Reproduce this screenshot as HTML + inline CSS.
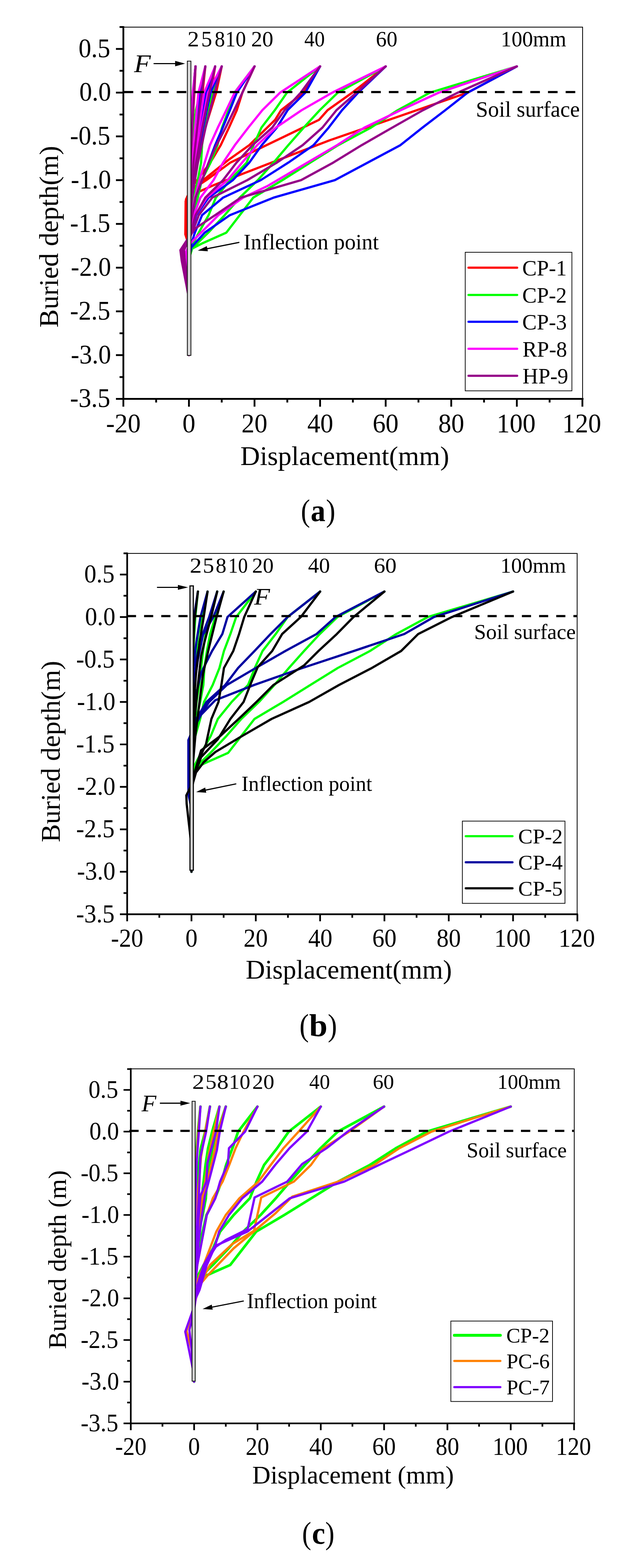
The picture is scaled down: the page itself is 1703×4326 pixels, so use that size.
<!DOCTYPE html><html><head><meta charset="utf-8"><title>Pile displacement profiles</title>
<style>html,body{margin:0;padding:0;background:#fff;}svg{display:block;}</style></head><body>
<svg width="1703" height="4326" viewBox="0 0 1703 4326" font-family="'Liberation Serif', 'Times New Roman', serif">
<rect width="1703" height="4326" fill="#fff"/>
<g>
<polyline points="1426.5,183.18 1290.75,255.6 909.75,387.16 749.56,448.72 668.11,480.1 588.47,511.48 553.17,527.17 521.5,540.45 512.45,554.94 511.55,646.67 521.5,678.05 521.5,714.26" fill="none" stroke="#ff0000" stroke-width="6.2" stroke-linejoin="round" stroke-linecap="round"/>
<polyline points="1064.5,183.18 972.19,255.6 904.32,303.88 880.79,330.43 635.53,448.72 569.47,497 539.6,516.31 521.5,533.21 513.36,550.11 513.36,641.84 521.5,665.98" fill="none" stroke="#ff0000" stroke-width="6.2" stroke-linejoin="round" stroke-linecap="round"/>
<polyline points="883.5,183.18 838.25,255.6 775.81,303.88 759.51,330.43 688.02,400.44 630.1,441.48 566.75,492.17 530.55,521.14 521.5,533.21" fill="none" stroke="#ff0000" stroke-width="6.2" stroke-linejoin="round" stroke-linecap="round"/>
<polyline points="702.5,183.18 669.01,255.6 653.63,303.88 631.91,352.16 609.28,400.44 580.33,448.72 544.12,497 526.02,521.14 521.5,533.21" fill="none" stroke="#ff0000" stroke-width="6.2" stroke-linejoin="round" stroke-linecap="round"/>
<polyline points="612,183.18 596.62,255.6 566.57,352.16 544.03,448.72 525.26,545.28 523.31,569.42 521.5,702.19" fill="none" stroke="#ff0000" stroke-width="6.2" stroke-linejoin="round" stroke-linecap="round"/>
<polyline points="593.9,183.18 581.59,255.6 557.56,352.16 539.53,448.72 524.5,545.28 523.31,569.42 521.5,702.19" fill="none" stroke="#ff0000" stroke-width="6.2" stroke-linejoin="round" stroke-linecap="round"/>
<polyline points="566.75,183.18 559.06,255.6 544.03,352.16 532.77,448.72 523.38,545.28 523.31,569.42 521.5,702.19" fill="none" stroke="#ff0000" stroke-width="6.2" stroke-linejoin="round" stroke-linecap="round"/>
<polyline points="539.6,183.18 536.52,255.6 530.51,352.16 526.01,448.72 522.25,545.28 523.31,569.42 521.5,702.19" fill="none" stroke="#ff0000" stroke-width="6.2" stroke-linejoin="round" stroke-linecap="round"/>
<polyline points="1426.5,183.18 1186.68,255.6 1097.99,303.88 1023.78,352.16 933.28,400.44 856.35,448.72 779.42,497 698.88,545.28 661.77,593.56 624.67,641.84 559.51,670.81 526.93,687.71 521.5,714.26 521.5,979.8" fill="none" stroke="#00ff00" stroke-width="6.2" stroke-linejoin="round" stroke-linecap="round"/>
<polyline points="1064.5,183.18 932.37,255.6 882.6,303.88 838.25,352.16 795.72,400.44 754.99,448.72 711.55,497 661.77,545.28 620.14,593.56 574.89,641.84 530.55,685.29 521.5,714.26" fill="none" stroke="#00ff00" stroke-width="6.2" stroke-linejoin="round" stroke-linecap="round"/>
<polyline points="883.5,183.18 792.1,255.6 758.61,303.88 721.5,352.16 699.78,400.44 680.78,448.72 634.62,497 595.71,545.28 575.8,593.56 548.65,641.84 526.02,685.29 521.5,714.26" fill="none" stroke="#00ff00" stroke-width="6.2" stroke-linejoin="round" stroke-linecap="round"/>
<polyline points="702.5,183.18 647.3,255.6 631,303.88 612.9,352.16 600.24,400.44 581.23,448.72 556.79,497 545.93,545.28 532.36,593.56 525.12,641.84 521.5,690.12" fill="none" stroke="#00ff00" stroke-width="6.2" stroke-linejoin="round" stroke-linecap="round"/>
<polyline points="612,183.18 588.47,255.6 573.99,303.88 564.94,352.16 557.7,400.44 554.99,448.72 545.93,497 535.08,545.28 526.02,617.7 521.5,690.12" fill="none" stroke="#00ff00" stroke-width="6.2" stroke-linejoin="round" stroke-linecap="round"/>
<polyline points="593.9,183.18 573.09,255.6 561.32,303.88 554.08,352.16 548.65,400.44 543.22,448.72 535.98,497 528.74,569.42 521.5,665.98" fill="none" stroke="#00ff00" stroke-width="6.2" stroke-linejoin="round" stroke-linecap="round"/>
<polyline points="566.75,183.18 553.17,255.6 540.5,303.88 535.08,352.16 532.36,400.44 529.64,448.72 526.93,497 523.31,593.56 521.5,665.98" fill="none" stroke="#00ff00" stroke-width="6.2" stroke-linejoin="round" stroke-linecap="round"/>
<polyline points="539.6,183.18 532.36,255.6 527.84,328.02 524.22,424.58 521.5,545.28" fill="none" stroke="#00ff00" stroke-width="6.2" stroke-linejoin="round" stroke-linecap="round"/>
<polyline points="1426.5,183.18 1290.75,255.6 1229.21,303.88 1165.86,352.16 1105.22,400.44 1014.73,448.72 924.23,497 754.99,545.28 634.62,593.56 564.94,641.84 527.84,682.88 521.5,714.26" fill="none" stroke="#0000ff" stroke-width="6.2" stroke-linejoin="round" stroke-linecap="round"/>
<polyline points="1064.5,183.18 988.48,255.6 944.13,303.88 907.03,352.16 865.4,400.44 795.72,448.72 719.69,497 615.62,545.28 557.7,593.56 537.79,641.84 524.22,685.29 521.5,714.26" fill="none" stroke="#0000ff" stroke-width="6.2" stroke-linejoin="round" stroke-linecap="round"/>
<polyline points="883.5,183.18 842.78,255.6 793.9,303.88 764.04,352.16 722.41,400.44 688.02,448.72 642.77,497 575.8,545.28 541.41,593.56 526.93,641.84 521.5,685.29" fill="none" stroke="#0000ff" stroke-width="6.2" stroke-linejoin="round" stroke-linecap="round"/>
<polyline points="702.5,183.18 653.63,255.6 634.62,303.88 614.72,352.16 593.9,400.44 575.8,448.72 557.7,497 539.6,545.28 526.93,617.7 521.5,678.05" fill="none" stroke="#0000ff" stroke-width="6.2" stroke-linejoin="round" stroke-linecap="round"/>
<polyline points="612,183.18 581.23,255.6 560.32,352.16 542.41,448.72 528.67,545.28 523.31,641.84 521.5,702.19" fill="none" stroke="#0000ff" stroke-width="6.2" stroke-linejoin="round" stroke-linecap="round"/>
<polyline points="593.9,183.18 569.28,255.6 552.56,352.16 538.22,448.72 527.23,545.28 523.31,641.84 521.5,702.19" fill="none" stroke="#0000ff" stroke-width="6.2" stroke-linejoin="round" stroke-linecap="round"/>
<polyline points="566.75,183.18 551.37,255.6 540.91,352.16 531.95,448.72 525.08,545.28 523.31,641.84 521.5,702.19" fill="none" stroke="#0000ff" stroke-width="6.2" stroke-linejoin="round" stroke-linecap="round"/>
<polyline points="539.6,183.18 533.45,255.6 529.26,352.16 525.68,448.72 522.93,545.28 523.31,641.84 521.5,702.19" fill="none" stroke="#0000ff" stroke-width="6.2" stroke-linejoin="round" stroke-linecap="round"/>
<polyline points="1426.5,183.18 1211.11,255.6 1106.13,303.88 1005.67,352.16 930.56,400.44 848.21,448.72 765.85,497 739.61,512.45 670.83,545.28 602.95,593.56 554.99,641.84 526.02,670.81 513.36,694.95 521.5,757.71" fill="none" stroke="#ff00ff" stroke-width="6.2" stroke-linejoin="round" stroke-linecap="round"/>
<polyline points="1064.5,183.18 916.99,255.6 832.82,303.88 761.33,352.16 709.74,400.44 668.11,448.72 628.29,497 570.37,545.28 539.6,593.56 526.02,641.84 521.5,678.05" fill="none" stroke="#ff00ff" stroke-width="6.2" stroke-linejoin="round" stroke-linecap="round"/>
<polyline points="883.5,183.18 773.09,255.6 724.22,303.88 685.31,352.16 648.2,400.44 615.62,448.72 589.38,497 553.17,545.28 535.08,593.56 524.22,641.84 521.5,678.05" fill="none" stroke="#ff00ff" stroke-width="6.2" stroke-linejoin="round" stroke-linecap="round"/>
<polyline points="702.5,183.18 647.75,255.6 624.67,303.88 601.14,352.16 579.42,400.44 564.94,448.72 550.46,497 537.79,545.28 526.02,617.7 521.5,665.98" fill="none" stroke="#ff00ff" stroke-width="6.2" stroke-linejoin="round" stroke-linecap="round"/>
<polyline points="612,183.18 573.99,255.6 555.62,352.16 539.87,448.72 527.8,545.28 523.31,641.84 521.5,702.19" fill="none" stroke="#ff00ff" stroke-width="6.2" stroke-linejoin="round" stroke-linecap="round"/>
<polyline points="593.9,183.18 563.49,255.6 548.79,352.16 536.2,448.72 526.54,545.28 523.31,641.84 521.5,702.19" fill="none" stroke="#ff00ff" stroke-width="6.2" stroke-linejoin="round" stroke-linecap="round"/>
<polyline points="566.75,183.18 547.75,255.6 538.56,352.16 530.69,448.72 524.65,545.28 523.31,641.84 521.5,702.19" fill="none" stroke="#ff00ff" stroke-width="6.2" stroke-linejoin="round" stroke-linecap="round"/>
<polyline points="539.6,183.18 532,255.6 528.32,352.16 525.17,448.72 522.76,545.28 523.31,641.84 521.5,702.19" fill="none" stroke="#ff00ff" stroke-width="6.2" stroke-linejoin="round" stroke-linecap="round"/>
<polyline points="1426.5,183.18 1263.6,255.6 1167.67,303.88 1082.6,352.16 998.44,400.44 919.7,448.72 831.01,497 664.49,545.28 593.9,593.56 539.6,629.77 521.5,653.91 497.97,690.12 501.59,719.09 521.5,822.89 521.5,979.8" fill="none" stroke="#950088" stroke-width="6.2" stroke-linejoin="round" stroke-linecap="round"/>
<polyline points="1064.5,183.18 983.96,255.6 928.75,303.88 889.84,352.16 835.54,400.44 764.04,448.72 682.59,497 585.75,545.28 548.65,593.56 530.55,641.84 502.5,690.12 505.21,714.26 521.5,815.65" fill="none" stroke="#950088" stroke-width="6.2" stroke-linejoin="round" stroke-linecap="round"/>
<polyline points="883.5,183.18 830.11,255.6 785.76,303.88 751.37,352.16 697.07,400.44 652.73,448.72 615.62,497 566.75,545.28 539.6,593.56 526.02,641.84 521.5,661.15 507.93,690.12 509.74,714.26 521.5,798.75" fill="none" stroke="#950088" stroke-width="6.2" stroke-linejoin="round" stroke-linecap="round"/>
<polyline points="702.5,183.18 669.01,255.6 646.39,303.88 622.86,352.16 597.52,400.44 575.8,448.72 557.7,497 539.6,545.28 526.02,617.7 521.5,665.98" fill="none" stroke="#950088" stroke-width="6.2" stroke-linejoin="round" stroke-linecap="round"/>
<polyline points="612,183.18 592.09,255.6 567.38,352.16 546.21,448.72 529.97,545.28 523.31,641.84 521.5,702.19" fill="none" stroke="#950088" stroke-width="6.2" stroke-linejoin="round" stroke-linecap="round"/>
<polyline points="593.9,183.18 577.97,255.6 558.21,352.16 541.27,448.72 528.28,545.28 523.31,641.84 521.5,702.19" fill="none" stroke="#950088" stroke-width="6.2" stroke-linejoin="round" stroke-linecap="round"/>
<polyline points="566.75,183.18 556.79,255.6 544.44,352.16 533.85,448.72 525.74,545.28 523.31,641.84 521.5,702.19" fill="none" stroke="#950088" stroke-width="6.2" stroke-linejoin="round" stroke-linecap="round"/>
<polyline points="539.6,183.18 535.62,255.6 530.68,352.16 526.44,448.72 523.19,545.28 523.31,641.84 521.5,702.19" fill="none" stroke="#950088" stroke-width="6.2" stroke-linejoin="round" stroke-linecap="round"/>
<rect x="517" y="168.6" width="10" height="812" fill="#d3d3d3" stroke="#000" stroke-width="2"/>
<line x1="341.3" y1="254" x2="1607" y2="254" stroke="#000" stroke-width="6" stroke-dasharray="26.5 22.3"/>
<path d="M340.5,74.8 H1608 V1100.5" fill="none" stroke="#000" stroke-width="2.2"/>
<path d="M340.5,72.3 V1100.5 H1610.5" fill="none" stroke="#000" stroke-width="5"/>
<path d="M330,74.55 H340.5 M320,134.9 H340.5 M330,195.25 H340.5 M320,255.6 H340.5 M330,315.95 H340.5 M320,376.3 H340.5 M330,436.65 H340.5 M320,497 H340.5 M330,557.35 H340.5 M320,617.7 H340.5 M330,678.05 H340.5 M320,738.4 H340.5 M330,798.75 H340.5 M320,859.1 H340.5 M330,919.45 H340.5 M320,979.8 H340.5 M330,1040.15 H340.5 M320,1100.5 H340.5 M340.5,1100.5 V1122 M431,1100.5 V1110.5 M521.5,1100.5 V1122 M612,1100.5 V1110.5 M702.5,1100.5 V1122 M793,1100.5 V1110.5 M883.5,1100.5 V1122 M974,1100.5 V1110.5 M1064.5,1100.5 V1122 M1155,1100.5 V1110.5 M1245.5,1100.5 V1122 M1336,1100.5 V1110.5 M1426.5,1100.5 V1122 M1517,1100.5 V1110.5 M1607.5,1100.5 V1122" stroke="#000" stroke-width="5" fill="none"/>
<g font-family="'Liberation Serif', 'Times New Roman', serif" fill="#000">
<text x="216.66" y="157.6" font-size="75" textLength="87.75" lengthAdjust="spacingAndGlyphs">0.5</text>
<text x="218.92" y="278.3" font-size="75" textLength="87.75" lengthAdjust="spacingAndGlyphs">0.0</text>
<text x="193.26" y="399" font-size="75" textLength="111.13" lengthAdjust="spacingAndGlyphs">-0.5</text>
<text x="195.52" y="519.7" font-size="75" textLength="111.13" lengthAdjust="spacingAndGlyphs">-1.0</text>
<text x="193.26" y="640.4" font-size="75" textLength="111.13" lengthAdjust="spacingAndGlyphs">-1.5</text>
<text x="195.52" y="761.1" font-size="75" textLength="111.13" lengthAdjust="spacingAndGlyphs">-2.0</text>
<text x="193.26" y="881.8" font-size="75" textLength="111.13" lengthAdjust="spacingAndGlyphs">-2.5</text>
<text x="195.52" y="1002.5" font-size="75" textLength="111.13" lengthAdjust="spacingAndGlyphs">-3.0</text>
<text x="193.26" y="1123.2" font-size="75" textLength="111.13" lengthAdjust="spacingAndGlyphs">-3.5</text>
<text x="292.75" y="1192.8" font-size="75" textLength="95.48" lengthAdjust="spacingAndGlyphs">-20</text>
<text x="503.59" y="1192.8" font-size="75" textLength="35.81" lengthAdjust="spacingAndGlyphs">0</text>
<text x="666.45" y="1192.8" font-size="75" textLength="71.62" lengthAdjust="spacingAndGlyphs">20</text>
<text x="848.28" y="1192.8" font-size="75" textLength="71.63" lengthAdjust="spacingAndGlyphs">40</text>
<text x="1028.45" y="1192.8" font-size="75" textLength="71.62" lengthAdjust="spacingAndGlyphs">60</text>
<text x="1209.69" y="1192.8" font-size="75" textLength="71.62" lengthAdjust="spacingAndGlyphs">80</text>
<text x="1370.99" y="1192.8" font-size="75" textLength="107.44" lengthAdjust="spacingAndGlyphs">100</text>
<text x="1551.99" y="1192.8" font-size="75" textLength="107.44" lengthAdjust="spacingAndGlyphs">120</text>
<text transform="translate(160,903.73) rotate(-90)" x="0" y="0" font-size="74.5" textLength="501.29" lengthAdjust="spacingAndGlyphs">Buried depth(m)</text>
<text x="663.56" y="1283" font-size="75" textLength="576.25" lengthAdjust="spacingAndGlyphs">Displacement(mm)</text>
<text x="517.46" y="128.3" font-size="62" textLength="32.06" lengthAdjust="spacingAndGlyphs">2</text>
<text x="555.28" y="128.3" font-size="62" textLength="30.26" lengthAdjust="spacingAndGlyphs">5</text>
<text x="592.53" y="128.3" font-size="62" textLength="28.54" lengthAdjust="spacingAndGlyphs">8</text>
<text x="621.63" y="128.3" font-size="62" textLength="57.14" lengthAdjust="spacingAndGlyphs">10</text>
<text x="693.18" y="128.3" font-size="62" textLength="61.35" lengthAdjust="spacingAndGlyphs">20</text>
<text x="840.06" y="128.3" font-size="62" textLength="56.49" lengthAdjust="spacingAndGlyphs">40</text>
<text x="1037.57" y="128.3" font-size="62" textLength="59.28" lengthAdjust="spacingAndGlyphs">60</text>
<text x="1382.36" y="128.3" font-size="62" textLength="180.65" lengthAdjust="spacingAndGlyphs">100mm</text>
<text x="1313.47" y="321.8" font-size="61.5" textLength="286.73" lengthAdjust="spacingAndGlyphs">Soil surface</text>
<text x="672.19" y="688.2" font-size="61.5" textLength="373.26" lengthAdjust="spacingAndGlyphs">Inflection point</text>
<text x="370.07" y="198.6" font-size="69" font-style="italic" textLength="46.07" lengthAdjust="spacingAndGlyphs">F</text>
<rect x="1284.1" y="696" width="294.4" height="382.3" fill="#fff" stroke="#000" stroke-width="2"/>
<line x1="1293.2" y1="738.6" x2="1427.4" y2="738.6" stroke="#ff0000" stroke-width="6" stroke-linecap="round"/>
<text x="1441.49" y="759.9" font-size="62" textLength="123.02" lengthAdjust="spacingAndGlyphs">CP-1</text>
<line x1="1293.2" y1="813.8" x2="1427.4" y2="813.8" stroke="#00ff00" stroke-width="6" stroke-linecap="round"/>
<text x="1441.49" y="835.1" font-size="62" textLength="123.02" lengthAdjust="spacingAndGlyphs">CP-2</text>
<line x1="1293.2" y1="887.7" x2="1427.4" y2="887.7" stroke="#0000ff" stroke-width="6" stroke-linecap="round"/>
<text x="1441.49" y="909" font-size="62" textLength="123.02" lengthAdjust="spacingAndGlyphs">CP-3</text>
<line x1="1293.2" y1="962.2" x2="1427.4" y2="962.2" stroke="#ff00ff" stroke-width="6" stroke-linecap="round"/>
<text x="1442.21" y="983.5" font-size="62" textLength="123.02" lengthAdjust="spacingAndGlyphs">RP-8</text>
<line x1="1293.2" y1="1036.8" x2="1427.4" y2="1036.8" stroke="#950088" stroke-width="6" stroke-linecap="round"/>
<text x="1442.21" y="1058.1" font-size="62" textLength="126.32" lengthAdjust="spacingAndGlyphs">HP-9</text>
<text x="830.58" y="1437.8" font-size="86" textLength="25.36" lengthAdjust="spacingAndGlyphs">(</text>
<text x="857.39" y="1437.8" font-size="86" font-weight="bold" textLength="40.79" lengthAdjust="spacingAndGlyphs">a</text>
<text x="899.72" y="1437.8" font-size="86" textLength="25.87" lengthAdjust="spacingAndGlyphs">)</text>
</g>
<line x1="423.9" y1="175.5" x2="485.4" y2="175.5" stroke="#000" stroke-width="3.2"/>
<polygon points="483.4,167.9 511,175.5 483.4,183.1" fill="#000"/>
<line x1="659.4" y1="668.9" x2="568.37" y2="686.85" stroke="#000" stroke-width="3.2" stroke-linecap="round"/>
<polygon points="570.9,679.01 545.8,691.3 573.68,693.14" fill="#000"/>
</g>
<g>
<polyline points="1416.1,1632.01 1180.89,1702.3 1093.9,1749.16 1021.12,1796.02 932.36,1842.88 856.91,1889.74 781.47,1936.6 702.47,1983.46 666.08,2030.32 629.69,2077.18 565.78,2105.3 533.83,2121.7 528.5,2147.47 528.5,2405.2" fill="none" stroke="#00ff00" stroke-width="6.2" stroke-linejoin="round" stroke-linecap="round"/>
<polyline points="1061.06,1632.01 931.47,1702.3 882.65,1749.16 839.16,1796.02 797.44,1842.88 757.5,1889.74 714.9,1936.6 666.08,1983.46 625.25,2030.32 580.87,2077.18 537.38,2119.35 528.5,2147.47" fill="none" stroke="#00ff00" stroke-width="6.2" stroke-linejoin="round" stroke-linecap="round"/>
<polyline points="883.54,1632.01 793.89,1702.3 761.05,1749.16 724.66,1796.02 703.36,1842.88 684.72,1889.74 639.45,1936.6 601.28,1983.46 581.76,2030.32 555.13,2077.18 532.94,2119.35 528.5,2147.47" fill="none" stroke="#00ff00" stroke-width="6.2" stroke-linejoin="round" stroke-linecap="round"/>
<polyline points="706.02,1632.01 651.88,1702.3 635.9,1749.16 618.15,1796.02 605.72,1842.88 587.08,1889.74 563.12,1936.6 552.47,1983.46 539.15,2030.32 532.05,2077.18 528.5,2124.04" fill="none" stroke="#00ff00" stroke-width="6.2" stroke-linejoin="round" stroke-linecap="round"/>
<polyline points="617.26,1632.01 594.18,1702.3 579.98,1749.16 571.1,1796.02 564,1842.88 561.34,1889.74 552.47,1936.6 541.81,1983.46 532.94,2053.75 528.5,2124.04" fill="none" stroke="#00ff00" stroke-width="6.2" stroke-linejoin="round" stroke-linecap="round"/>
<polyline points="599.51,1632.01 579.09,1702.3 567.55,1749.16 560.45,1796.02 555.13,1842.88 549.8,1889.74 542.7,1936.6 535.6,2006.89 528.5,2100.61" fill="none" stroke="#00ff00" stroke-width="6.2" stroke-linejoin="round" stroke-linecap="round"/>
<polyline points="572.88,1632.01 559.57,1702.3 547.14,1749.16 541.81,1796.02 539.15,1842.88 536.49,1889.74 533.83,1936.6 530.28,2030.32 528.5,2100.61" fill="none" stroke="#00ff00" stroke-width="6.2" stroke-linejoin="round" stroke-linecap="round"/>
<polyline points="546.25,1632.01 539.15,1702.3 534.71,1772.59 531.16,1866.31 528.5,1983.46" fill="none" stroke="#00ff00" stroke-width="6.2" stroke-linejoin="round" stroke-linecap="round"/>
<polyline points="1416.1,1632.01 1197.75,1702.3 1116.09,1749.16 976.74,1796.02 834.72,1842.88 701.58,1889.74 594.18,1931.91 555.13,1971.74 532.94,2011.58 519.98,2042.03 519.98,2170.9 520.51,2194.33 528.5,2229.47 528.5,2405.2" fill="none" stroke="#0000a0" stroke-width="6.2" stroke-linejoin="round" stroke-linecap="round"/>
<polyline points="1061.06,1632.01 926.14,1702.3 873.78,1749.16 787.68,1796.02 706.02,1842.88 626.14,1889.74 577.32,1936.6 546.25,1983.46 531.16,2018.61 521.4,2053.75 521.4,2159.18 528.5,2217.76" fill="none" stroke="#0000a0" stroke-width="6.2" stroke-linejoin="round" stroke-linecap="round"/>
<polyline points="883.54,1632.01 793.89,1702.3 746.85,1749.16 702.47,1796.02 657.2,1842.88 621.7,1889.74 570.22,1936.6 541.81,1983.46 528.5,2018.61" fill="none" stroke="#0000a0" stroke-width="6.2" stroke-linejoin="round" stroke-linecap="round"/>
<polyline points="706.02,1632.01 627.91,1702.3 613.71,1749.16 585.31,1796.02 567.55,1831.16 555.13,1856.94 541.81,1913.17 532.94,1960.03 528.5,2006.89" fill="none" stroke="#0000a0" stroke-width="6.2" stroke-linejoin="round" stroke-linecap="round"/>
<polyline points="617.26,1632.01 588.86,1702.3 560.45,1751.5 546.25,1819.45 532.94,1913.17 528.5,1983.46" fill="none" stroke="#0000a0" stroke-width="6.2" stroke-linejoin="round" stroke-linecap="round"/>
<polyline points="599.51,1632.01 577.32,1702.3 555.13,1760.88 541.81,1819.45 531.16,1913.17 528.5,1983.46" fill="none" stroke="#0000a0" stroke-width="6.2" stroke-linejoin="round" stroke-linecap="round"/>
<polyline points="572.88,1632.01 553.35,1702.3 541.81,1772.59 532.94,1842.88 528.5,1913.17" fill="none" stroke="#0000a0" stroke-width="6.2" stroke-linejoin="round" stroke-linecap="round"/>
<polyline points="546.25,1632.01 535.6,1702.3 530.28,1772.59 528.5,1842.88" fill="none" stroke="#0000a0" stroke-width="6.2" stroke-linejoin="round" stroke-linecap="round"/>
<polyline points="1416.1,1632.01 1247.46,1702.3 1154.26,1749.16 1107.22,1796.02 1026.44,1842.88 935.91,1889.74 853.36,1936.6 749.51,1983.46 668.74,2030.32 594.18,2074.84 562.23,2102.95 540.93,2131.07 532.94,2159.18 528.5,2182.61 528.5,2405.2" fill="none" stroke="#000000" stroke-width="6.2" stroke-linejoin="round" stroke-linecap="round"/>
<polyline points="1061.06,1632.01 975.85,1702.3 929.7,1749.16 879.1,1796.02 839.16,1835.85 754.84,1889.74 707.8,1936.6 666.08,1976.43 608.38,2030.32 555.13,2070.15 539.15,2124.04 532.05,2159.18 514.3,2194.33 515.19,2217.76 528.5,2334.91" fill="none" stroke="#000000" stroke-width="6.2" stroke-linejoin="round" stroke-linecap="round"/>
<polyline points="883.54,1632.01 830.28,1702.3 778.8,1749.16 751.29,1796.02 711.35,1840.54 694.48,1880.37 672.29,1936.6 635.9,1983.46 601.28,2039.69 555.13,2088.89 537.38,2135.76 531.16,2163.87" fill="none" stroke="#000000" stroke-width="6.2" stroke-linejoin="round" stroke-linecap="round"/>
<polyline points="706.02,1632.01 674.07,1702.3 659.86,1749.16 643.89,1796.02 618.15,1842.88 611.05,1889.74 603.06,1936.6 583.53,1983.46 568.44,2053.75 546.25,2100.61 532.94,2147.47" fill="none" stroke="#000000" stroke-width="6.2" stroke-linejoin="round" stroke-linecap="round"/>
<polyline points="617.26,1632.01 597.73,1702.3 577.32,1784.3 560.45,1859.28 550.69,1936.6 539.15,2030.32 531.16,2124.04" fill="none" stroke="#000000" stroke-width="6.2" stroke-linejoin="round" stroke-linecap="round"/>
<polyline points="599.51,1632.01 582.64,1702.3 564,1772.59 555.13,1810.08 546.25,1889.74 537.38,1983.46 530.28,2100.61" fill="none" stroke="#000000" stroke-width="6.2" stroke-linejoin="round" stroke-linecap="round"/>
<polyline points="572.88,1632.01 562.23,1702.3 550.69,1772.59 540.93,1859.28 535.6,1936.6 531.16,2053.75" fill="none" stroke="#000000" stroke-width="6.2" stroke-linejoin="round" stroke-linecap="round"/>
<polyline points="546.25,1632.01 536.49,1714.01 532.94,1796.02 530.28,1936.6" fill="none" stroke="#000000" stroke-width="6.2" stroke-linejoin="round" stroke-linecap="round"/>
<rect x="524.3" y="1616.4" width="9.4" height="784.5" fill="#d3d3d3" stroke="#000" stroke-width="3"/>
<line x1="350.3" y1="1699.8" x2="1592" y2="1699.8" stroke="#000" stroke-width="6" stroke-dasharray="25.2 22.2"/>
<path d="M351,1526.8 H1593 V2522.4" fill="none" stroke="#000" stroke-width="2.2"/>
<path d="M351,1524.45 V2522.4 H1595.35" fill="none" stroke="#000" stroke-width="4.7"/>
<path d="M341,1526.57 H351 M331,1585.15 H351 M341,1643.72 H351 M331,1702.3 H351 M341,1760.88 H351 M331,1819.45 H351 M341,1878.03 H351 M331,1936.6 H351 M341,1995.17 H351 M331,2053.75 H351 M341,2112.32 H351 M331,2170.9 H351 M341,2229.47 H351 M331,2288.05 H351 M341,2346.62 H351 M331,2405.2 H351 M341,2463.78 H351 M331,2522.35 H351 M350.98,2522.4 V2541.8 M439.74,2522.4 V2532 M528.5,2522.4 V2541.8 M617.26,2522.4 V2532 M706.02,2522.4 V2541.8 M794.78,2522.4 V2532 M883.54,2522.4 V2541.8 M972.3,2522.4 V2532 M1061.06,2522.4 V2541.8 M1149.82,2522.4 V2532 M1238.58,2522.4 V2541.8 M1327.34,2522.4 V2532 M1416.1,2522.4 V2541.8 M1504.86,2522.4 V2532 M1593.62,2522.4 V2541.8" stroke="#000" stroke-width="4.7" fill="none"/>
<g font-family="'Liberation Serif', 'Times New Roman', serif" fill="#000">
<text x="232.46" y="1607.35" font-size="72" textLength="83.7" lengthAdjust="spacingAndGlyphs">0.5</text>
<text x="234.86" y="1724.5" font-size="72" textLength="83.7" lengthAdjust="spacingAndGlyphs">0.0</text>
<text x="210.14" y="1841.65" font-size="72" textLength="106" lengthAdjust="spacingAndGlyphs">-0.5</text>
<text x="212.54" y="1958.8" font-size="72" textLength="106" lengthAdjust="spacingAndGlyphs">-1.0</text>
<text x="210.14" y="2075.95" font-size="72" textLength="106" lengthAdjust="spacingAndGlyphs">-1.5</text>
<text x="212.54" y="2193.1" font-size="72" textLength="106" lengthAdjust="spacingAndGlyphs">-2.0</text>
<text x="210.14" y="2310.25" font-size="72" textLength="106" lengthAdjust="spacingAndGlyphs">-2.5</text>
<text x="212.54" y="2427.4" font-size="72" textLength="106" lengthAdjust="spacingAndGlyphs">-3.0</text>
<text x="210.14" y="2544.55" font-size="72" textLength="106" lengthAdjust="spacingAndGlyphs">-3.5</text>
<text x="306.34" y="2612" font-size="72" textLength="89.26" lengthAdjust="spacingAndGlyphs">-20</text>
<text x="511.76" y="2612" font-size="72" textLength="33.48" lengthAdjust="spacingAndGlyphs">0</text>
<text x="672.31" y="2612" font-size="72" textLength="66.96" lengthAdjust="spacingAndGlyphs">20</text>
<text x="850.64" y="2612" font-size="72" textLength="66.96" lengthAdjust="spacingAndGlyphs">40</text>
<text x="1027.46" y="2612" font-size="72" textLength="66.96" lengthAdjust="spacingAndGlyphs">60</text>
<text x="1205.1" y="2612" font-size="72" textLength="66.96" lengthAdjust="spacingAndGlyphs">80</text>
<text x="1364.25" y="2612" font-size="72" textLength="100.44" lengthAdjust="spacingAndGlyphs">100</text>
<text x="1541.77" y="2612" font-size="72" textLength="100.44" lengthAdjust="spacingAndGlyphs">120</text>
<text transform="translate(164.8,2323.77) rotate(-90)" x="0" y="0" font-size="73" textLength="500.78" lengthAdjust="spacingAndGlyphs">Buried depth(m)</text>
<text x="678.38" y="2699.5" font-size="73" textLength="568.89" lengthAdjust="spacingAndGlyphs">Displacement(mm)</text>
<text x="523.79" y="1580.3" font-size="59" textLength="33.16" lengthAdjust="spacingAndGlyphs">2</text>
<text x="559.89" y="1580.3" font-size="59" textLength="31.3" lengthAdjust="spacingAndGlyphs">5</text>
<text x="595.33" y="1580.3" font-size="59" textLength="29.74" lengthAdjust="spacingAndGlyphs">8</text>
<text x="629.77" y="1580.3" font-size="59" textLength="54.3" lengthAdjust="spacingAndGlyphs">10</text>
<text x="695.67" y="1580.3" font-size="59" textLength="59.6" lengthAdjust="spacingAndGlyphs">20</text>
<text x="850.32" y="1580.3" font-size="59" textLength="60.38" lengthAdjust="spacingAndGlyphs">40</text>
<text x="1031.95" y="1580.3" font-size="59" textLength="62.64" lengthAdjust="spacingAndGlyphs">60</text>
<text x="1381.22" y="1580.3" font-size="59" textLength="181.16" lengthAdjust="spacingAndGlyphs">100mm</text>
<text x="1308.66" y="1763" font-size="60" textLength="280.68" lengthAdjust="spacingAndGlyphs">Soil surface</text>
<text x="666.42" y="2181.8" font-size="60" textLength="360.51" lengthAdjust="spacingAndGlyphs">Inflection point</text>
<text x="701.47" y="1667.6" font-size="66" font-style="italic" textLength="43.66" lengthAdjust="spacingAndGlyphs">F</text>
<rect x="1276.2" y="2265.4" width="283.2" height="226.9" fill="#fff" stroke="#000" stroke-width="2"/>
<line x1="1285.6" y1="2307" x2="1414.5" y2="2307" stroke="#00ff00" stroke-width="6" stroke-linecap="round"/>
<text x="1430.38" y="2327" font-size="58" textLength="122.84" lengthAdjust="spacingAndGlyphs">CP-2</text>
<line x1="1285.6" y1="2379" x2="1414.5" y2="2379" stroke="#0000a0" stroke-width="6" stroke-linecap="round"/>
<text x="1430.38" y="2399" font-size="58" textLength="122.84" lengthAdjust="spacingAndGlyphs">CP-4</text>
<line x1="1285.6" y1="2450.8" x2="1414.5" y2="2450.8" stroke="#000000" stroke-width="6" stroke-linecap="round"/>
<text x="1430.38" y="2470.8" font-size="58" textLength="122.84" lengthAdjust="spacingAndGlyphs">CP-5</text>
<text x="826.6" y="2857.6" font-size="86" textLength="26" lengthAdjust="spacingAndGlyphs">(</text>
<text x="853.34" y="2857.6" font-size="86" font-weight="bold" textLength="50.65" lengthAdjust="spacingAndGlyphs">b</text>
<text x="904.87" y="2857.6" font-size="86" textLength="25.36" lengthAdjust="spacingAndGlyphs">)</text>
</g>
<line x1="433.3" y1="1620.5" x2="493" y2="1620.5" stroke="#000" stroke-width="3.2"/>
<polygon points="491,1613.7 519.1,1620.5 491,1627.3" fill="#000"/>
<line x1="650.9" y1="2162.8" x2="563.93" y2="2180.67" stroke="#000" stroke-width="3.2" stroke-linecap="round"/>
<polygon points="566.4,2172.81 541.4,2185.3 569.3,2186.92" fill="#000"/>
</g>
<g>
<polyline points="1409.7,3053 1178.12,3122 1092.47,3168 1020.81,3214 933.42,3260 859.14,3306 784.86,3352 707.08,3398 671.25,3444 635.42,3490 572.5,3517.6 541.04,3533.7 535.8,3559 535.8,3812" fill="none" stroke="#00ff00" stroke-width="7.2" stroke-linejoin="round" stroke-linecap="round"/>
<polyline points="1060.14,3053 932.55,3122 884.49,3168 841.66,3214 800.59,3260 761.27,3306 719.32,3352 671.25,3398 631.06,3444 587.36,3490 544.54,3531.4 535.8,3559" fill="none" stroke="#00ff00" stroke-width="7.2" stroke-linejoin="round" stroke-linecap="round"/>
<polyline points="885.36,3053 797.1,3122 764.76,3168 728.93,3214 707.96,3260 689.61,3306 645.04,3352 607.46,3398 588.23,3444 562.02,3490 540.17,3531.4 535.8,3559" fill="none" stroke="#00ff00" stroke-width="7.2" stroke-linejoin="round" stroke-linecap="round"/>
<polyline points="710.58,3053 657.27,3122 641.54,3168 624.06,3214 611.83,3260 593.48,3306 569.88,3352 559.4,3398 546.29,3444 539.3,3490 535.8,3536" fill="none" stroke="#00ff00" stroke-width="7.2" stroke-linejoin="round" stroke-linecap="round"/>
<polyline points="623.19,3053 600.47,3122 586.49,3168 577.75,3214 570.76,3260 568.13,3306 559.4,3352 548.91,3398 540.17,3467 535.8,3536" fill="none" stroke="#00ff00" stroke-width="7.2" stroke-linejoin="round" stroke-linecap="round"/>
<polyline points="605.71,3053 585.61,3122 574.25,3168 567.26,3214 562.02,3260 556.77,3306 549.78,3352 542.79,3421 535.8,3513" fill="none" stroke="#00ff00" stroke-width="7.2" stroke-linejoin="round" stroke-linecap="round"/>
<polyline points="579.5,3053 566.39,3122 554.15,3168 548.91,3214 546.29,3260 543.67,3306 541.04,3352 537.55,3444 535.8,3513" fill="none" stroke="#00ff00" stroke-width="7.2" stroke-linejoin="round" stroke-linecap="round"/>
<polyline points="553.28,3053 546.29,3122 541.92,3191 538.42,3283 535.8,3398" fill="none" stroke="#00ff00" stroke-width="7.2" stroke-linejoin="round" stroke-linecap="round"/>
<polyline points="1409.7,3053 1191.22,3122 1102.09,3168 1033.05,3214 933.42,3260 806.71,3301.4 760.39,3347.4 645.04,3444 574.25,3517.6 548.91,3547.5 535.8,3605 514.83,3671.7 535.8,3747.6 535.8,3812" fill="none" stroke="#ff8000" stroke-width="6.2" stroke-linejoin="round" stroke-linecap="round"/>
<polyline points="1060.14,3053 964.01,3122 891.48,3168 858.27,3214 811.08,3260 721.07,3303.7 700.97,3395.7 640.67,3432.5 579.5,3490 548.91,3547.5 540.17,3582 535.8,3605" fill="none" stroke="#ff8000" stroke-width="6.2" stroke-linejoin="round" stroke-linecap="round"/>
<polyline points="885.36,3053 824.19,3122 782.24,3168 747.28,3214 713.2,3260 660.77,3306 623.19,3352 596.97,3398 570.76,3467 544.54,3536 535.8,3570.5" fill="none" stroke="#ff8000" stroke-width="6.2" stroke-linejoin="round" stroke-linecap="round"/>
<polyline points="710.58,3053 672.13,3122 650.28,3168 632.8,3214 614.45,3260 587.36,3306 570.76,3352 557.65,3421 544.54,3490 538.42,3547.5" fill="none" stroke="#ff8000" stroke-width="6.2" stroke-linejoin="round" stroke-linecap="round"/>
<polyline points="623.19,3053 602.22,3122 592.6,3172.6 579.5,3230.1 562.02,3299.1 553.28,3352 544.54,3421 538.42,3513" fill="none" stroke="#ff8000" stroke-width="6.2" stroke-linejoin="round" stroke-linecap="round"/>
<polyline points="605.71,3053 589.98,3122 575.13,3191 566.39,3260 555.03,3306 546.29,3375 540.17,3467 535.8,3536" fill="none" stroke="#ff8000" stroke-width="6.2" stroke-linejoin="round" stroke-linecap="round"/>
<polyline points="579.5,3053 566.39,3122 555.03,3191 547.16,3283 542.79,3375 538.42,3467 535.8,3536" fill="none" stroke="#ff8000" stroke-width="6.2" stroke-linejoin="round" stroke-linecap="round"/>
<polyline points="553.28,3053 547.16,3122 541.92,3204.8 539.3,3299.1 536.67,3398 535.8,3490" fill="none" stroke="#ff8000" stroke-width="6.2" stroke-linejoin="round" stroke-linecap="round"/>
<polyline points="1409.7,3053 1239.29,3122 1143.16,3168 1046.16,3214 950.03,3260 799.72,3306 741.17,3352 682.62,3398 594.35,3437.1 570.76,3490 550.66,3559 540.17,3582 535.8,3605 511.33,3674 535.8,3793.6 535.8,3812" fill="none" stroke="#8000ff" stroke-width="6.2" stroke-linejoin="round" stroke-linecap="round"/>
<polyline points="1060.14,3053 959.64,3122 901.09,3168 833.8,3211.7 792.73,3260 702.71,3303.7 683.49,3391.1 623.19,3421 596.1,3439.4 570.76,3478.5 550.66,3547.5 540.17,3582 535.8,3616.5 522.69,3669.4 535.8,3784.4" fill="none" stroke="#8000ff" stroke-width="6.2" stroke-linejoin="round" stroke-linecap="round"/>
<polyline points="885.36,3053 846.91,3122 798.84,3168 759.52,3214 723.69,3260 668.63,3306 631.93,3352 604.84,3398 594.35,3434.8 562.02,3490 544.54,3547.5 535.8,3582" fill="none" stroke="#8000ff" stroke-width="6.2" stroke-linejoin="round" stroke-linecap="round"/>
<polyline points="710.58,3053 676.5,3122 631.93,3168 629.31,3209.4 607.46,3260 594.35,3306 570.76,3352 557.65,3421 544.54,3490 538.42,3547.5" fill="none" stroke="#8000ff" stroke-width="6.2" stroke-linejoin="round" stroke-linecap="round"/>
<polyline points="623.19,3053 606.59,3122 598.72,3172.6 583.86,3230.1 565.51,3299.1 557.65,3352 548.91,3421 540.17,3513" fill="none" stroke="#8000ff" stroke-width="6.2" stroke-linejoin="round" stroke-linecap="round"/>
<polyline points="605.71,3053 596.1,3122 572.5,3209.4 569.88,3260 553.28,3299.1 548.91,3352 542.79,3444 538.42,3513" fill="none" stroke="#8000ff" stroke-width="6.2" stroke-linejoin="round" stroke-linecap="round"/>
<polyline points="579.5,3053 569.01,3122 553.28,3191 548.91,3299.1 544.54,3375 540.17,3467 535.8,3536" fill="none" stroke="#8000ff" stroke-width="6.2" stroke-linejoin="round" stroke-linecap="round"/>
<polyline points="553.28,3053 548.91,3122 542.79,3204.8 540.17,3299.1 537.55,3398 535.8,3490" fill="none" stroke="#8000ff" stroke-width="6.2" stroke-linejoin="round" stroke-linecap="round"/>
<rect x="530.1" y="3038.3" width="8.7" height="772.2" fill="#d3d3d3" stroke="#000" stroke-width="2"/>
<line x1="356.9" y1="3120" x2="1584" y2="3120" stroke="#000" stroke-width="6.2" stroke-dasharray="25.7 21.3"/>
<path d="M361,2948.9 H1585 V3927" fill="none" stroke="#000" stroke-width="2.2"/>
<path d="M361,2946.65 V3927 H1587.25" fill="none" stroke="#000" stroke-width="4.5"/>
<path d="M351,2949.5 H361 M341,3007 H361 M351,3064.5 H361 M341,3122 H361 M351,3179.5 H361 M341,3237 H361 M351,3294.5 H361 M341,3352 H361 M351,3409.5 H361 M341,3467 H361 M351,3524.5 H361 M341,3582 H361 M351,3639.5 H361 M341,3697 H361 M351,3754.5 H361 M341,3812 H361 M351,3869.5 H361 M341,3927 H361 M361.02,3927 V3945.8 M448.41,3927 V3936 M535.8,3927 V3945.8 M623.19,3927 V3936 M710.58,3927 V3945.8 M797.97,3927 V3936 M885.36,3927 V3945.8 M972.75,3927 V3936 M1060.14,3927 V3945.8 M1147.53,3927 V3936 M1234.92,3927 V3945.8 M1322.31,3927 V3936 M1409.7,3927 V3945.8 M1497.09,3927 V3936 M1584.48,3927 V3945.8" stroke="#000" stroke-width="4.7" fill="none"/>
<g font-family="'Liberation Serif', 'Times New Roman', serif" fill="#000">
<text x="244.28" y="3029.2" font-size="70.5" textLength="81.96" lengthAdjust="spacingAndGlyphs">0.5</text>
<text x="246.68" y="3144.2" font-size="70.5" textLength="81.96" lengthAdjust="spacingAndGlyphs">0.0</text>
<text x="222.66" y="3259.2" font-size="70.5" textLength="103.79" lengthAdjust="spacingAndGlyphs">-0.5</text>
<text x="225.06" y="3374.2" font-size="70.5" textLength="103.79" lengthAdjust="spacingAndGlyphs">-1.0</text>
<text x="222.66" y="3489.2" font-size="70.5" textLength="103.79" lengthAdjust="spacingAndGlyphs">-1.5</text>
<text x="225.06" y="3604.2" font-size="70.5" textLength="103.79" lengthAdjust="spacingAndGlyphs">-2.0</text>
<text x="222.66" y="3719.2" font-size="70.5" textLength="103.79" lengthAdjust="spacingAndGlyphs">-2.5</text>
<text x="225.06" y="3834.2" font-size="70.5" textLength="103.79" lengthAdjust="spacingAndGlyphs">-3.0</text>
<text x="222.66" y="3949.2" font-size="70.5" textLength="103.79" lengthAdjust="spacingAndGlyphs">-3.5</text>
<text x="317.89" y="4013.5" font-size="70.5" textLength="86.46" lengthAdjust="spacingAndGlyphs">-20</text>
<text x="519.59" y="4013.5" font-size="70.5" textLength="32.43" lengthAdjust="spacingAndGlyphs">0</text>
<text x="678.03" y="4013.5" font-size="70.5" textLength="64.86" lengthAdjust="spacingAndGlyphs">20</text>
<text x="853.62" y="4013.5" font-size="70.5" textLength="64.86" lengthAdjust="spacingAndGlyphs">40</text>
<text x="1027.59" y="4013.5" font-size="70.5" textLength="64.86" lengthAdjust="spacingAndGlyphs">60</text>
<text x="1202.49" y="4013.5" font-size="70.5" textLength="64.86" lengthAdjust="spacingAndGlyphs">80</text>
<text x="1359.44" y="4013.5" font-size="70.5" textLength="97.29" lengthAdjust="spacingAndGlyphs">100</text>
<text x="1534.22" y="4013.5" font-size="70.5" textLength="97.29" lengthAdjust="spacingAndGlyphs">120</text>
<text transform="translate(181.7,3721.88) rotate(-90)" x="0" y="0" font-size="69" textLength="493.26" lengthAdjust="spacingAndGlyphs">Buried depth (m)</text>
<text x="696.28" y="4093" font-size="69" textLength="556.37" lengthAdjust="spacingAndGlyphs">Displacement (mm)</text>
<text x="530.41" y="3004.2" font-size="58" textLength="33.55" lengthAdjust="spacingAndGlyphs">2</text>
<text x="567.06" y="3004.2" font-size="58" textLength="30.73" lengthAdjust="spacingAndGlyphs">5</text>
<text x="599.13" y="3004.2" font-size="58" textLength="31.84" lengthAdjust="spacingAndGlyphs">8</text>
<text x="631.7" y="3004.2" font-size="58" textLength="59.2" lengthAdjust="spacingAndGlyphs">10</text>
<text x="696.38" y="3004.2" font-size="58" textLength="60.89" lengthAdjust="spacingAndGlyphs">20</text>
<text x="853.62" y="3004.2" font-size="58" textLength="57.1" lengthAdjust="spacingAndGlyphs">40</text>
<text x="1028.97" y="3004.2" font-size="58" textLength="58.71" lengthAdjust="spacingAndGlyphs">60</text>
<text x="1372.76" y="3004.2" font-size="58" textLength="175.11" lengthAdjust="spacingAndGlyphs">100mm</text>
<text x="1288.06" y="3192.5" font-size="59" textLength="276.23" lengthAdjust="spacingAndGlyphs">Soil surface</text>
<text x="681.44" y="3609" font-size="59" textLength="358.53" lengthAdjust="spacingAndGlyphs">Inflection point</text>
<text x="390.65" y="3066.3" font-size="66" font-style="italic" textLength="40.71" lengthAdjust="spacingAndGlyphs">F</text>
<rect x="1244.4" y="3644.7" width="280.6" height="221.9" fill="#fff" stroke="#000" stroke-width="2"/>
<line x1="1254" y1="3683.9" x2="1381" y2="3683.9" stroke="#00ff00" stroke-width="8" stroke-linecap="round"/>
<text x="1397.45" y="3703.7" font-size="58" textLength="119.26" lengthAdjust="spacingAndGlyphs">CP-2</text>
<line x1="1254" y1="3754.8" x2="1381" y2="3754.8" stroke="#ff8000" stroke-width="6" stroke-linecap="round"/>
<text x="1397.95" y="3774.6" font-size="58" textLength="119.26" lengthAdjust="spacingAndGlyphs">PC-6</text>
<line x1="1254" y1="3827" x2="1381" y2="3827" stroke="#8000ff" stroke-width="6" stroke-linecap="round"/>
<text x="1397.95" y="3846.8" font-size="58" textLength="119.26" lengthAdjust="spacingAndGlyphs">PC-7</text>
<text x="833.78" y="4258.6" font-size="86" textLength="25.36" lengthAdjust="spacingAndGlyphs">(</text>
<text x="861.03" y="4258.6" font-size="86" font-weight="bold" textLength="36.55" lengthAdjust="spacingAndGlyphs">c</text>
<text x="897.77" y="4258.6" font-size="86" textLength="25.36" lengthAdjust="spacingAndGlyphs">)</text>
</g>
<line x1="441.3" y1="3043.6" x2="500.1" y2="3043.6" stroke="#000" stroke-width="3.2"/>
<polygon points="498.1,3036.8 525,3043.6 498.1,3050.4" fill="#000"/>
<line x1="671.6" y1="3589.5" x2="581.78" y2="3607" stroke="#000" stroke-width="3.2" stroke-linecap="round"/>
<polygon points="584.32,3599.17 559.2,3611.4 587.08,3613.3" fill="#000"/>
</g>
</svg></body></html>
